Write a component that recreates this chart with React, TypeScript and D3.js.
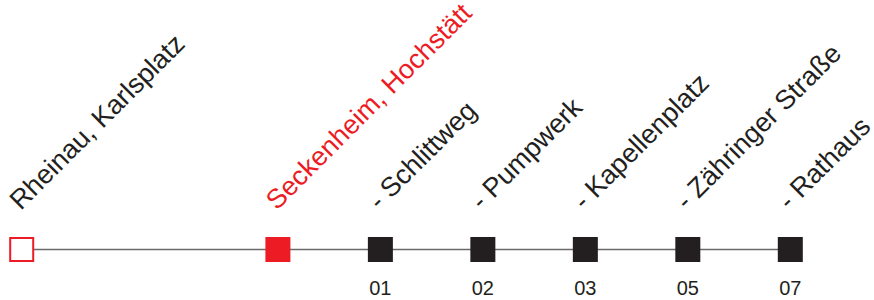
import React from 'react';
import * as d3 from 'd3';

// station names, in order along the line
const stationNames = [
  'Rheinau, Karlsplatz',
  'Seckenheim, Hochstätt',
  '- Schlittweg',
  '- Pumpwerk',
  '- Kapellenplatz',
  '- Zähringer Straße',
  '- Rathaus',
];
// position of each stop along the line (in stop spacings)
const stationPos = [0, 2.5, 3.5, 4.5, 5.5, 6.5, 7.5];
// kind of marker for each stop
const stationKind = ['start', 'current', 'stop', 'stop', 'stop', 'stop', 'stop'];
// short codes printed under the stops
const stationCodes = ['', '', '01', '02', '03', '05', '07'];

const RED = '#ed1c24';
const DARK = '#231f20';
const FONT = '"Liberation Sans", Arial, Helvetica, sans-serif';

const App = () => {
  const width = 874;
  const height = 300;
  const lineY = 249.5;
  const size = 25;

  const x = d3.scaleLinear().domain([0, 7.5]).range([21.7, 790.3]);
  const [x0, x1] = d3.extent(stationPos) as [number, number];

  return (
    <svg
      width={width}
      height={height}
      style={{ position: 'absolute', left: 0, top: 0, background: '#fff' }}
      fontFamily={FONT}
    >
      <line x1={x(x0)} x2={x(x1)} y1={lineY} y2={lineY} stroke="#6a6a6a" strokeWidth={1.5} />
      {stationNames.map((name, i) => {
        const cx = x(stationPos[i]);
        const kind = stationKind[i];
        const fill = kind === 'start' ? '#fff' : kind === 'current' ? RED : DARK;
        const textColor = kind === 'current' ? RED : DARK;
        return (
          <g key={name}>
            {kind === 'start' ? (
              <rect x={cx - (size - 2) / 2} y={lineY - (size - 2) / 2} width={size - 2} height={size - 2} fill={fill} stroke={RED} strokeWidth={2} />
            ) : (
              <rect x={cx - size / 2} y={lineY - size / 2} width={size} height={size} fill={fill} />
            )}
            <text
              transform={`translate(${cx - 1},211) rotate(-45)`}
              fontSize={27}
              fill={textColor}
            >
              {name}
            </text>
            {stationCodes[i] && (
              <text x={cx} y={295} textAnchor="middle" fontSize={20} fill={DARK}>
                {stationCodes[i]}
              </text>
            )}
          </g>
        );
      })}
    </svg>
  );
};

export default App;
